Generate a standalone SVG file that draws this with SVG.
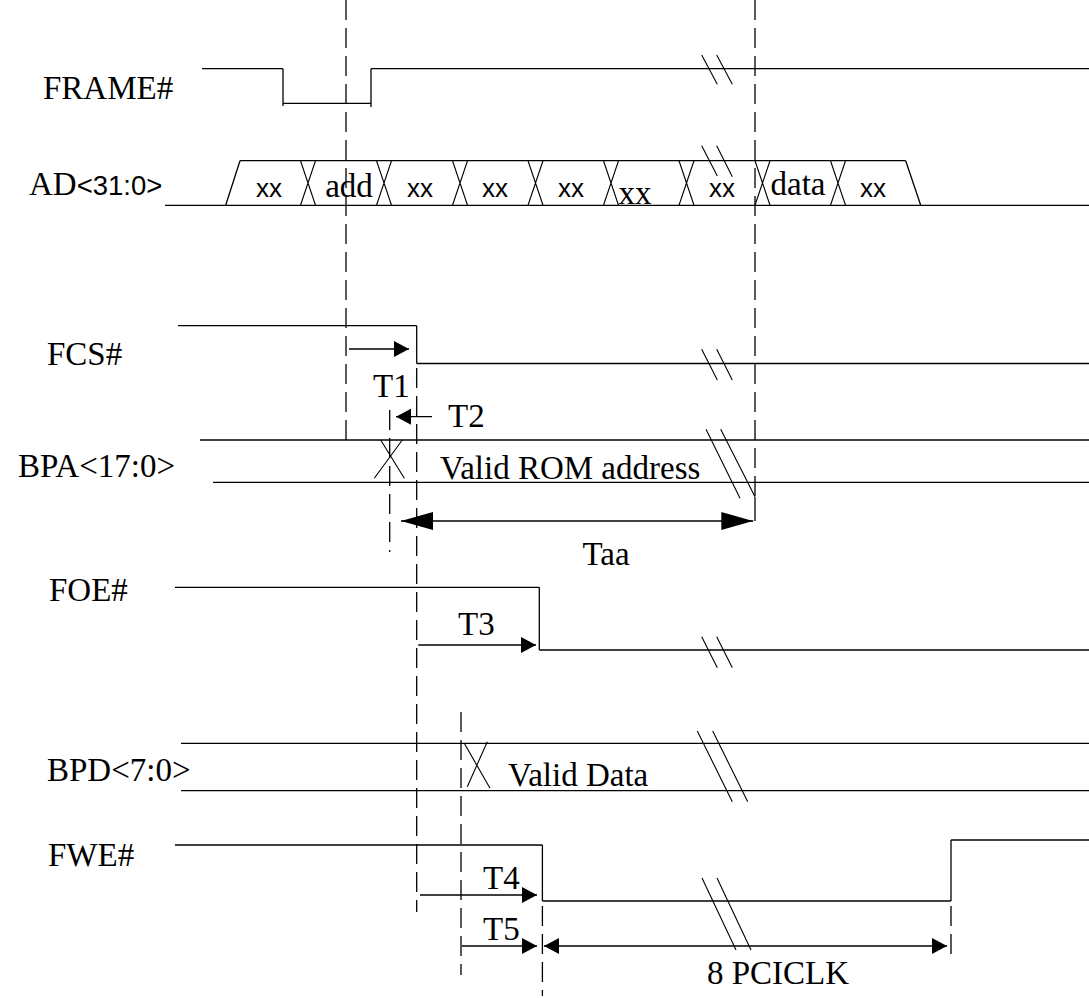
<svg xmlns="http://www.w3.org/2000/svg" width="1089" height="998" viewBox="0 0 1089 998">
<defs>
<style>
.ln{stroke:#000;stroke-width:1.3;fill:none}
.ds{stroke:#000;stroke-width:1.3;fill:none;stroke-dasharray:20 8}
.brk{stroke:#000;stroke-width:1.1;fill:none}
.lbl{font-family:"Liberation Serif","Times New Roman",serif;font-size:33px;fill:#000}
.sans{font-family:"Liberation Sans",Arial,sans-serif;font-size:26px;fill:#000}
</style>
<marker id="arr" viewBox="0 0 15 16" refX="15" refY="8" markerWidth="15" markerHeight="16" markerUnits="userSpaceOnUse" orient="auto-start-reverse"><path d="M0,0 L15,8 L0,16 z" fill="#000"/></marker>
<marker id="arrL" viewBox="0 0 32 18" refX="32" refY="9" markerWidth="32" markerHeight="18" markerUnits="userSpaceOnUse" orient="auto-start-reverse"><path d="M0,0 L32,9 L0,18 z" fill="#000"/></marker>
</defs>
<rect width="1089" height="998" fill="#fff"/>

<g id="labels">
<text class="lbl" x="43" y="99">FRAME#</text>
<text class="lbl" x="29" y="195">AD<tspan class="sans" style="font-size:27.5px">&lt;31:0&gt;</tspan></text>
<text class="lbl" x="47" y="365">FCS#</text>
<text class="lbl" x="18" y="477">BPA&lt;17:0&gt;</text>
<text class="lbl" x="49" y="601">FOE#</text>
<text class="lbl" x="47" y="781">BPD&lt;7:0&gt;</text>
<text class="lbl" x="48" y="866">FWE#</text>
</g>

<g id="frame">
<polyline class="ln" points="202,68.7 283,68.7"/>
<line class="ln" x1="283" y1="68.7" x2="283" y2="106"/>
<line class="ln" x1="283" y1="103.3" x2="371" y2="103.3"/>
<line class="ln" x1="371" y1="107" x2="371" y2="68.7"/>
<line class="ln" x1="371" y1="68.7" x2="1089" y2="68.7"/>
<path class="brk" d="M701.7,55 L717.3,84.3 M716.7,55 L732.3,84.3"/>
</g>

<g id="ad">
<line class="ln" x1="165" y1="205.3" x2="1089" y2="205.3"/>
<line class="ln" x1="240" y1="160.7" x2="905.7" y2="160.7"/>
<path class="ln" d="M225.7,205.3 L240,160.7 M905.7,160.7 L920.7,205.3"/>
<path class="brk" d="M300.5,160.7 L315.5,205.3 M315.5,160.7 L300.5,205.3
M376.5,160.7 L391.5,205.3 M391.5,160.7 L376.5,205.3
M452.5,160.7 L467.5,205.3 M467.5,160.7 L452.5,205.3
M528,160.7 L543,205.3 M543,160.7 L528,205.3
M603.5,160.7 L618.5,205.3 M618.5,160.7 L603.5,205.3
M679,160.7 L694,205.3 M694,160.7 L679,205.3
M755,160.7 L770,205.3 M770,160.7 L755,205.3
M830.5,160.7 L845.5,205.3 M845.5,160.7 L830.5,205.3"/>
<path class="brk" d="M701.7,145.7 L717.3,176 M716.7,145.7 L732.3,176.7"/>
<text class="sans" x="269" y="196.5" text-anchor="middle">xx</text>
<text class="lbl" x="349" y="196.5" text-anchor="middle">add</text>
<text class="sans" x="420" y="196.5" text-anchor="middle">xx</text>
<text class="sans" x="495" y="196.5" text-anchor="middle">xx</text>
<text class="sans" x="571" y="196.5" text-anchor="middle">xx</text>
<text class="lbl" x="635" y="204" text-anchor="middle">xx</text>
<text class="sans" x="722" y="196.5" text-anchor="middle">xx</text>
<text class="lbl" x="798" y="195" text-anchor="middle">data</text>
<text class="sans" x="873" y="196.5" text-anchor="middle">xx</text>
</g>

<g id="fcs">
<line class="ln" x1="178" y1="325.7" x2="416.7" y2="325.7"/>
<line class="ln" x1="416.7" y1="325.7" x2="416.7" y2="363.5"/>
<line class="ln" x1="416.7" y1="363.5" x2="1089" y2="363.5"/>
<path class="brk" d="M701.7,349.3 L717.3,380 M716.7,349.3 L732.3,380"/>
</g>

<g id="bpa">
<line class="ln" x1="200" y1="440" x2="1089" y2="440"/>
<line class="ln" x1="213" y1="482.3" x2="1089" y2="482.3"/>
<path class="brk" d="M380.7,440 L404.3,478.3 M402.3,440 L374.3,478.3"/>
<path class="brk" d="M706,429.3 L740,498.3 M720.7,429.3 L755,496.7"/>
<text class="lbl" x="440" y="479">Valid ROM address</text>
</g>

<g id="foe">
<line class="ln" x1="175" y1="587.3" x2="539.3" y2="587.3"/>
<line class="ln" x1="539.3" y1="587.3" x2="539.3" y2="650"/>
<line class="ln" x1="539.3" y1="650" x2="1089" y2="650"/>
<path class="brk" d="M701.7,636.7 L717.3,667.7 M716.7,636.7 L732.3,667.7"/>
</g>

<g id="bpd">
<line class="ln" x1="181" y1="743.3" x2="1089" y2="743.3"/>
<line class="ln" x1="181" y1="790.7" x2="1089" y2="790.7"/>
<path class="brk" d="M464.3,743.3 L490,788.3 M487.3,741.7 L467.3,786.7"/>
<path class="brk" d="M697.3,731 L732.3,801.7 M712.7,731 L747.7,801.7"/>
<text class="lbl" x="508" y="785.5">Valid Data</text>
</g>

<g id="fwe">
<line class="ln" x1="175" y1="845" x2="542.4" y2="845"/>
<line class="ln" x1="542.4" y1="845" x2="542.4" y2="901"/>
<line class="ln" x1="542.4" y1="901" x2="951" y2="901"/>
<line class="ln" x1="951" y1="901" x2="951" y2="840"/>
<line class="ln" x1="951" y1="840" x2="1089" y2="840"/>
<path class="brk" d="M702,878 L736,950 M717,878 L751,950"/>
</g>

<g id="connectors">
<line class="ds" x1="346" y1="0" x2="346" y2="441"/>
<line class="ds" x1="755" y1="0" x2="755" y2="497"/>
<line class="ln" x1="755" y1="497" x2="755" y2="521"/>
<line class="ds" x1="416.7" y1="368" x2="416.7" y2="912"/>
<line class="ds" x1="389.7" y1="410" x2="389.7" y2="552"/>
<line class="ds" x1="461" y1="712" x2="461" y2="975"/>
<line class="ds" x1="542.4" y1="906" x2="542.4" y2="996"/>
<line class="ds" x1="951" y1="906" x2="951" y2="958"/>

<line class="ln" x1="349" y1="349" x2="409" y2="349" marker-end="url(#arr)"/>
<text class="lbl" x="373" y="397">T1</text>
<line class="ln" x1="432" y1="416.7" x2="396" y2="416.7" marker-end="url(#arr)"/>
<text class="lbl" x="448" y="426.5">T2</text>
<line class="ln" x1="401" y1="521" x2="753.3" y2="521" marker-start="url(#arrL)" marker-end="url(#arrL)"/>
<text class="lbl" x="606" y="565" text-anchor="middle">Taa</text>
<line class="ln" x1="418.3" y1="645" x2="536" y2="645" marker-end="url(#arr)"/>
<text class="lbl" x="458" y="635">T3</text>
<line class="ln" x1="420" y1="895" x2="537" y2="895" marker-end="url(#arr)"/>
<text class="lbl" x="483" y="889">T4</text>
<line class="ln" x1="462" y1="946" x2="537" y2="946" marker-end="url(#arr)"/>
<text class="lbl" x="483" y="940">T5</text>
<line class="ln" x1="544" y1="946" x2="947" y2="946" marker-start="url(#arr)" marker-end="url(#arr)"/>
<text class="lbl" x="778" y="984" text-anchor="middle">8 PCICLK</text>
</g>
</svg>
